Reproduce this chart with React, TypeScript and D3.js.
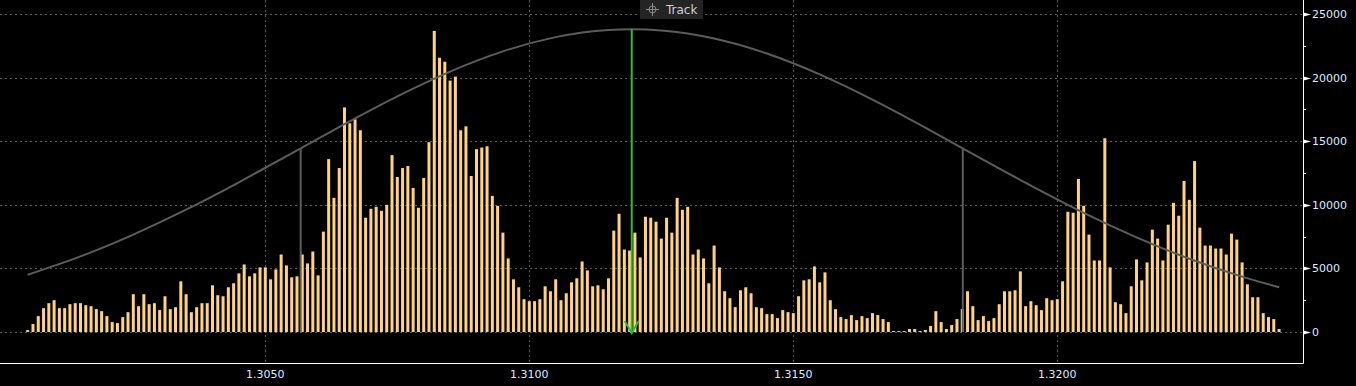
import React from "react";
import * as d3 from "d3";

// ---- data ----
const BAR_START = 1.3005;
const BAR_STEP = 0.0001;
const volumes: number[] = [
  150, 625, 1250, 1875, 2265, 2500, 1875, 1875, 2190, 2265, 2265, 2110, 2030, 1800, 1640, 1250, 780, 700, 1170, 1560, 2970,
  2030, 2970, 2190, 2265, 1720, 2810, 1800, 1950, 3985, 2970, 1560, 1950, 2265, 2265, 3670, 2890, 2810, 3515, 3830, 4610, 5310,
  4375, 4610, 5078, 5078, 4140, 4920, 6093, 5234, 4297, 4375, 6093, 5390, 6328, 4453, 7890, 13593, 10546, 12890, 17655, 16405, 16718, 15859,
  8984, 9687, 9843, 9531, 10000, 13906, 12187, 12890, 13046, 11328, 9765, 12109, 14921, 23671, 21562, 21250, 19765, 20078, 15859, 16171, 12265, 14375,
  14500, 14600, 10700, 9921, 7812, 5781, 4140, 3515, 2578, 2421, 2421, 2578, 3593, 3203, 4140, 2500, 3046, 3906, 4218, 5546, 4843, 3593,
  3671, 3359, 4218, 7968, 9296, 6484, 6406, 7812, 5859, 9062, 8984, 8671, 7343, 8984, 7812, 10546, 9609, 9843, 6093, 6484, 5781, 3828,
  6796, 5078, 3203, 2656, 1953, 3281, 3515, 3046, 1953, 1875, 1406, 1406, 1093, 1718, 1562, 1484, 2812, 4062, 4140, 5156, 3906, 4687,
  2500, 1797, 1172, 1016, 1328, 937, 1250, 1093, 1484, 1328, 1016, 781, 78, 78, 78, 234, 234, 78, 156, 469, 1640, 781,
  234, 547, 1016, 1797, 3203, 2031, 937, 1250, 859, 1093, 2187, 3203, 3203, 3281, 4765, 2031, 2421, 2109, 1718, 2656, 2500,
  2578, 3984, 9453, 9375, 12031, 9922, 7656, 5625, 5625, 15234, 5078, 2343, 2187, 1484, 3593, 5703, 4062, 5468, 8046, 7343, 5625, 8437,
  10156, 9140, 11875, 10390, 13437, 8203, 6796, 6796, 6562, 6562, 6093, 7734, 7265, 5468, 3750, 2734, 2734, 1484, 1172, 1016, 234,
];
const barPrices: number[] = volumes.map((_, i) => BAR_START + i * BAR_STEP);

// fitted distribution curve
const curvePrices = [
  1.3005, 1.3015, 1.3025, 1.3035, 1.3045, 1.3055, 1.3065, 1.3075, 1.3085, 1.3095, 1.3105, 1.3115,
  1.3125, 1.3135, 1.3145, 1.3155, 1.3165, 1.3175, 1.3185, 1.3195, 1.3205, 1.3215, 1.3225, 1.3235, 1.3242,
];
const curveValues = [
  4505, 5950, 7662, 9618, 11772, 14045, 16336, 18521, 20475, 22065, 23181, 23741,
  23705, 23074, 21896, 20256, 18269, 16063, 13768, 11505, 9372, 7445, 5762, 4351, 3518,
];

const bandPrices = [1.30567, 1.31821];
const bandTops = [14450, 14450];
const trackPrice = 1.31194;
const trackTop = 23800;

const xTicks = [1.305, 1.31, 1.315, 1.32];
const yTicks = [0, 5000, 10000, 15000, 20000, 25000];
const yMinorTicks = [2500, 7500, 12500, 17500, 22500];

// ---- layout ----
const W = 1356;
const H = 386;
const AXIS_X = 1303;
const BOTTOM = 363;

export default function App() {
  const x = d3.scaleLinear().domain([1.3050, 1.3100]).range([265.3, 529.3]);
  const y = d3.scaleLinear().domain([0, 25000]).range([332, 14]);

  const curvePts: [number, number][] = curvePrices.map((p, i) => [x(p), y(curveValues[i])]);
  const curvePath = d3.line().curve(d3.curveNatural)(curvePts) || "";

  const fmt = d3.format(".4f");
  const barW = 3;
  const gx = x(trackPrice);
  const arrowBottom = y(0) + 1;

  return (
    <div style={{ position: "absolute", left: 0, top: 0, width: W, height: H, background: "#000" }}>
      <svg width={W} height={H} style={{ display: "block", background: "#000" }}>
        <rect x={0} y={0} width={W} height={H} fill="#000" />
        {/* grid */}
        {yTicks.map((t) => (
          <line key={"gy" + t} x1={0} x2={AXIS_X} y1={Math.round(y(t)) + 0.5} y2={Math.round(y(t)) + 0.5}
            stroke="#5a5a5a" strokeWidth={1} strokeDasharray="2,3" />
        ))}
        {xTicks.map((t) => (
          <line key={"gx" + t} x1={Math.round(x(t)) + 0.5} x2={Math.round(x(t)) + 0.5} y1={0} y2={BOTTOM}
            stroke="#5a5a5a" strokeWidth={1} strokeDasharray="2,3" />
        ))}
        {/* bars */}
        {volumes.map((v, i) => (
          <rect key={"b" + i} x={x(barPrices[i]) - barW / 2} y={y(v)} width={barW} height={y(0) - y(v)} fill="#ffd27f" />
        ))}
        {/* curve */}
        <path d={curvePath} fill="none" stroke="#5c5c5c" strokeWidth={2} />
        {/* band lines */}
        {bandPrices.map((p, i) => (
          <line key={"band" + i} x1={x(p)} x2={x(p)} y1={y(bandTops[i])} y2={y(0)} stroke="#5c5c5c" strokeWidth={2} />
        ))}
        {/* green track line */}
        <line x1={gx} x2={gx} y1={y(trackTop)} y2={arrowBottom} stroke="#2fbd2f" strokeWidth={2} />
        <polyline points={`${gx - 7},${arrowBottom - 12} ${gx},${arrowBottom} ${gx + 7},${arrowBottom - 12}`}
          fill="none" stroke="#2fbd2f" strokeWidth={2} />
        {/* axes */}
        <line x1={AXIS_X + 0.5} x2={AXIS_X + 0.5} y1={0} y2={BOTTOM + 0.5} stroke="#ffffff" strokeWidth={1} />
        <line x1={0} x2={AXIS_X + 0.5} y1={BOTTOM + 0.5} y2={BOTTOM + 0.5} stroke="#ffffff" strokeWidth={1} />
        {yMinorTicks.map((t) => (
          <line key={"my" + t} x1={AXIS_X} x2={AXIS_X + 3} y1={Math.round(y(t)) + 0.5} y2={Math.round(y(t)) + 0.5}
            stroke="#ffffff" strokeWidth={1} />
        ))}
        {yTicks.map((t) => {
          const yy = Math.round(y(t)) + 0.5;
          return (
            <g key={"ty" + t}>
              <polygon points={`${AXIS_X + 0.5},${yy - 2} ${AXIS_X + 8},${yy} ${AXIS_X + 0.5},${yy + 2}`} fill="#ffffff" />
              <text x={AXIS_X + 9} y={yy} dy="0.35em" fill="#dcecff" fontFamily="DejaVu Sans, sans-serif" fontSize={11}>
                {t}
              </text>
            </g>
          );
        })}
        {xTicks.map((t) => (
          <text key={"tx" + t} x={x(t)} y={378} textAnchor="middle" fill="#dcecff" fontFamily="DejaVu Sans, sans-serif" fontSize={11}>
            {fmt(t)}
          </text>
        ))}
        {/* Track label */}
        <rect x={640} y={0} width={63} height={19} fill="#242424" />
        <g stroke="#8a8a8a" strokeWidth={1} fill="none">
          <circle cx={652.5} cy={9.5} r={3.5} />
          <line x1={646} x2={659} y1={9.5} y2={9.5} />
          <line x1={652.5} x2={652.5} y1={3} y2={16} />
        </g>
        <text x={666} y={14} fill="#c8d2dc" fontFamily="DejaVu Sans, sans-serif" fontSize={12}>Track</text>
      </svg>
    </div>
  );
}
